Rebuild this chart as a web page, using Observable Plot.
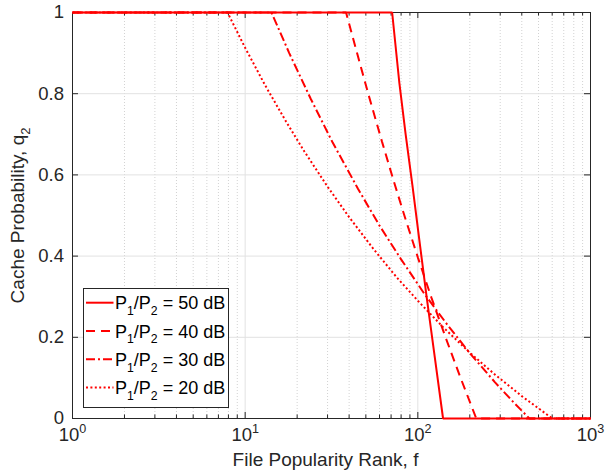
<!DOCTYPE html>
<html>
<head>
<meta charset="utf-8">
<script src="https://cdn.jsdelivr.net/npm/d3@7"></script>
<script src="https://cdn.jsdelivr.net/npm/@observablehq/plot@0.6"></script>
<style>
  html, body { margin: 0; padding: 0; background: #fff; }
  #wrap { position: relative; width: 605px; height: 474px; font-family: "Liberation Sans", Arial, Helvetica, sans-serif; }
  #legend { position: absolute; left: 0; top: 0; }
</style>
</head>
<body>
<div id="wrap"></div>
<script>
// Cache probability q2 versus file popularity rank f, one curve per power ratio P1/P2
const rank50 = [1, 71, 78, 85, 93, 102, 112, 125, 140, 1000];
const prob50 = [1, 1, 0.83, 0.70, 0.575, 0.44, 0.305, 0.155, 0, 0];

const rank40 = [1, 38.4, 45, 52, 62, 72, 85, 100, 120, 145, 175, 218, 1000];
const prob40 = [1, 1, 0.892, 0.795, 0.682, 0.589, 0.490, 0.397, 0.297, 0.199, 0.105, 0, 0];

const rank30 = [1, 14.2, 18, 24, 32, 45, 60, 80, 110, 150, 200, 280, 360, 443, 1000];
const prob30 = [1, 1, 0.900, 0.787, 0.681, 0.566, 0.475, 0.392, 0.305, 0.228, 0.161, 0.089, 0.039, 0, 0];

const rank20 = [1, 7.9, 10, 13, 17, 22, 30, 40, 55, 75, 100, 140, 200, 280, 400, 500, 601, 1000];
const prob20 = [1, 1, 0.913, 0.822, 0.736, 0.658, 0.571, 0.496, 0.419, 0.349, 0.290, 0.225, 0.162, 0.108, 0.055, 0.025, 0, 0];

const seriesNames = ["P_{1}/P_{2} = 50 dB", "P_{1}/P_{2} = 40 dB", "P_{1}/P_{2} = 30 dB", "P_{1}/P_{2} = 20 dB"];
const seriesDash = [null, "9,6", "9,3,2,3", "2,2.4"];

const xMajor = [1, 10, 100, 1000];
const xMajorLabels = ["10^{0}", "10^{1}", "10^{2}", "10^{3}"];
const xMinor = [2,3,4,5,6,7,8,9, 20,30,40,50,60,70,80,90, 200,300,400,500,600,700,800,900];
const yMajor = [0, 0.2, 0.4, 0.6, 0.8, 1];
const yMajorLabels = ["0", "0.2", "0.4", "0.6", "0.8", "1"];

const xTitle = "File Popularity Rank, f";
const yTitle = "Cache Probability, q_{2}";

const W = 605, H = 474;
const mL = 72, mR = 15, mT = 12, mB = 56;
const innerW = W - mL - mR, innerH = H - mT - mB;
const axisColor = "#262626";
const font = "Liberation Sans, Arial, Helvetica, sans-serif";
const tickFont = 18.5;

const toRows = (xs, ys) => xs.map((f, i) => ({f, q: ys[i]}));
const series = [
  toRows(rank50, prob50),
  toRows(rank40, prob40),
  toRows(rank30, prob30),
  toRows(rank20, prob20)
];

const chart = Plot.plot({
  width: W,
  height: H,
  marginLeft: mL, marginRight: mR, marginTop: mT, marginBottom: mB,
  style: {fontFamily: font, background: "#fff", overflow: "visible"},
  x: {type: "log", domain: [1, 1000], axis: null},
  y: {domain: [0, 1], axis: null},
  marks: [
    // grid
    Plot.ruleX(xMinor, {x: d => d, stroke: "#d2d2d2", strokeDasharray: "1,2", strokeWidth: 1}),
    Plot.ruleX(xMajor, {x: d => d, stroke: "#e2e2e2", strokeWidth: 1}),
    Plot.ruleY(yMajor, {y: d => d, stroke: "#e2e2e2", strokeWidth: 1}),
    // box
    Plot.frame({stroke: axisColor, strokeWidth: 1}),
    // inward ticks, bottom & top
    Plot.ruleX(xMajor, {x: d => d, insetTop: innerH - 6, stroke: axisColor}),
    Plot.ruleX(xMajor, {x: d => d, insetBottom: innerH - 6, stroke: axisColor}),
    Plot.ruleX(xMinor, {x: d => d, insetTop: innerH - 3.5, stroke: axisColor}),
    Plot.ruleX(xMinor, {x: d => d, insetBottom: innerH - 3.5, stroke: axisColor}),
    // inward ticks, left & right
    Plot.ruleY(yMajor, {y: d => d, insetRight: innerW - 6, stroke: axisColor}),
    Plot.ruleY(yMajor, {y: d => d, insetLeft: innerW - 6, stroke: axisColor}),
    // tick labels
    Plot.text(yMajor, {y: d => d, text: (d, i) => yMajorLabels[i], frameAnchor: "left", textAnchor: "end", dx: -8.5, fontSize: tickFont, fill: axisColor}),
    Plot.text(xMajor, {x: d => d, text: (d, i) => xMajorLabels[i], frameAnchor: "bottom", textAnchor: "middle", dy: 22.5, fontSize: tickFont, fill: axisColor}),
    // axis titles
    Plot.text([xTitle], {text: d => d, frameAnchor: "bottom", textAnchor: "middle", dy: 47, dx: -6, fontSize: 19, fill: axisColor}),
    Plot.text([yTitle], {text: d => d, frameAnchor: "left", textAnchor: "middle", rotate: -90, dx: -55, fontSize: 19, fill: axisColor}),
    // curves
    ...series.map((rows, i) => Plot.line(rows, {
      x: "f", y: "q", stroke: "#ff0000", strokeWidth: 2,
      strokeDasharray: seriesDash[i], strokeLinejoin: "miter", strokeLinecap: "butt"
    }))
  ]
});

// turn ^{..} and _{..} markup into raised / lowered tspans
function richText(sel, text, size) {
  sel.text(null);
  const parts = text.split(/([\^_]\{[^}]*\})/).filter(s => s.length);
  let shift = 0;
  for (const p of parts) {
    const m = p.match(/^([\^_])\{(.*)\}$/);
    if (m) {
      const d = m[1] === "^" ? -0.42 * size : 0.32 * size;
      sel.append("tspan").attr("dy", d - shift).attr("font-size", 0.68 * size).text(m[2]);
      shift = d;
    } else {
      sel.append("tspan").attr("dy", -shift).text(p);
      shift = 0;
    }
  }
}

d3.select(chart).selectAll("text").each(function() {
  const t = this.textContent;
  if (/[\^_]\{/.test(t)) {
    const size = parseFloat(d3.select(this.parentNode).attr("font-size")) || parseFloat(this.getAttribute("font-size")) || tickFont;
    richText(d3.select(this), t, size);
  }
});

const wrap = document.getElementById("wrap");
wrap.appendChild(chart);

// legend box inside the axes, lower left
const lg = {x: 83, y: 288, w: 145, h: 119, row0: 14.7, step: 28.3, sx0: 3, sx1: 30.5, tx: 32};
const legend = d3.select(wrap).append("svg")
  .attr("id", "legend")
  .attr("width", W).attr("height", H)
  .style("font-family", font);
legend.append("rect")
  .attr("x", lg.x + 0.5).attr("y", lg.y + 0.5).attr("width", lg.w).attr("height", lg.h)
  .attr("fill", "#fff").attr("stroke", axisColor).attr("stroke-width", 1);
seriesNames.forEach((name, i) => {
  const cy = lg.y + lg.row0 + i * lg.step;
  legend.append("line")
    .attr("x1", lg.x + lg.sx0).attr("x2", lg.x + lg.sx1)
    .attr("y1", cy).attr("y2", cy)
    .attr("stroke", "#ff0000").attr("stroke-width", 2)
    .attr("stroke-dasharray", seriesDash[i]);
  const t = legend.append("text")
    .attr("x", lg.x + lg.tx).attr("y", cy + 6.5)
    .attr("font-size", 18).attr("fill", "#000");
  richText(t, name, 18);
});
</script>
</body>
</html>
